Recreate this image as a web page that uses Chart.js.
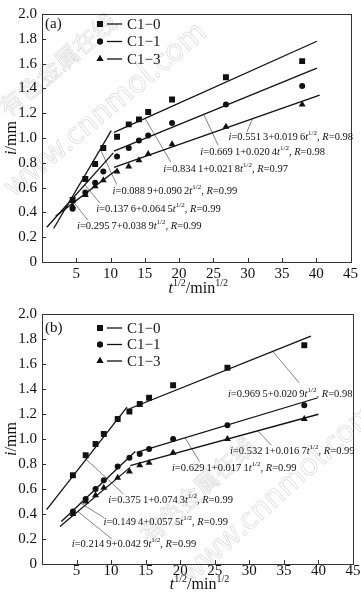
<!DOCTYPE html>
<html>
<head>
<meta charset="utf-8">
<script src="https://cdn.jsdelivr.net/npm/chart.js@4.4.0/dist/chart.umd.min.js"></script>
<style>
  html, body { margin: 0; padding: 0; background: #fff; }
  #wrap { position: relative; width: 361px; height: 601px; overflow: hidden; }
  .panel { position: absolute; left: 0; width: 361px; }
  #panelA { top: 0; height: 300px; }
  #panelB { top: 300px; height: 301px; }
</style>
</head>
<body>
<div id="wrap">
  <div class="panel" id="panelA"><canvas id="chartA"></canvas></div>
  <div class="panel" id="panelB"><canvas id="chartB"></canvas></div>
</div>
<script>
// t^1/2 (min^1/2) of the sampling times
const sqrtTime = [4.47, 6.32, 7.75, 8.94, 10.95, 12.65, 14.14, 15.49, 18.97, 26.83, 37.95];

// (a) measured i/mm
const aC10 = [0.50, 0.67, 0.79, 0.92, 1.01, 1.11, 1.15, 1.21, 1.31, 1.49, 1.62];
const aC11 = [0.43, 0.56, 0.64, 0.73, 0.85, 0.92, 0.98, 1.02, 1.12, 1.27, 1.42];
const aC13 = [0.45, 0.54, 0.61, 0.66, 0.73, 0.77, 0.82, 0.87, 0.95, 1.09, 1.27];

// (b) measured i/mm
const bC10 = [0.71, 0.87, 0.96, 1.04, 1.16, 1.22, 1.28, 1.33, 1.43, 1.57, 1.75];
const bC11 = [0.42, 0.52, 0.60, 0.67, 0.78, 0.85, 0.88, 0.92, 1.00, 1.11, 1.27];
const bC13 = [0.40, 0.50, 0.55, 0.61, 0.69, 0.74, 0.79, 0.81, 0.89, 1.00, 1.16];

// fitted segments (start / end), two stages per series
const aFitC10 = [[[1.7, 0.27], [10.1, 1.06]], [[10.5, 1.046], [40.1, 1.78]]];
const aFitC11 = [[[0.7, 0.28], [10.4, 0.88]], [[10.5, 0.894], [40.1, 1.563]]];
const aFitC13 = [[[2.0, 0.37], [10.8, 0.74]], [[10.5, 0.764], [40.5, 1.346]]];
const bFitC10 = [[[0.67, 0.435], [12.3, 1.255]], [[12.66, 1.242], [38.9, 1.823]]];
const bFitC11 = [[[2.8, 0.34], [13.5, 0.90]], [[13.7, 0.893], [39.8, 1.328]]];
const bFitC13 = [[[2.6, 0.30], [12.76, 0.773]], [[12.76, 0.787], [40.0, 1.198]]];

// fit equations: intercept, slope, R
const aFormulas = [
    ['0.551 3', '0.019 6', '0.98'],
    ['0.669 1', '0.020 4', '0.98'],
    ['0.834 1', '0.021 8', '0.97'],
    ['0.088 9', '0.090 2', '0.99'],
    ['0.137 6', '0.064 5', '0.99'],
    ['0.295 7', '0.038 9', '0.99']
];
const bFormulas = [
    ['0.969 5', '0.020 9', '0.98'],
    ['0.532 1', '0.016 7', '0.99'],
    ['0.629 1', '0.017 1', '0.99'],
    ['0.375 1', '0.074 3', '0.99'],
    ['0.149 4', '0.057 5', '0.99'],
    ['0.214 9', '0.042 9', '0.99']
];

const seriesNames = ['C1\u22120', 'C1\u22121', 'C1\u22123'];
const xTicks = [0, 5, 10, 15, 20, 25, 30, 35, 40, 45];
const yTicks = [0, 0.2, 0.4, 0.6, 0.8, 1.0, 1.2, 1.4, 1.6, 1.8, 2.0];

// label placement in data units: text left/middle, leader from (on line) -> to (at text)
const aNotePos = [
    { x: 27.2, y: 1.01,  from: [30.7, 1.155], to: [29.9, 1.05] },
    { x: 23.1, y: 0.888, from: [23.6, 1.19],  to: [25.7, 0.94] },
    { x: 17.7, y: 0.752, from: [15.0, 1.16],  to: [18.8, 0.805] },
    { x: 10.3, y: 0.568, from: [8.5, 0.91],   to: [10.9, 0.625] },
    { x: 7.9,  y: 0.427, from: [6.25, 0.624], to: [8.4, 0.477] },
    { x: 5.1,  y: 0.289, from: [4.66, 0.48],  to: [6.7, 0.336] }
];
const bNotePos = [
    { x: 26.9, y: 1.362, from: [33.4, 1.70],  to: [37.2, 1.45] },
    { x: 27.2, y: 0.904, from: [31.2, 1.066], to: [33.2, 0.95] },
    { x: 18.8, y: 0.768, from: [20.7, 1.009], to: [22.8, 0.82] },
    { x: 9.6,  y: 0.513, from: [6.35, 0.84],  to: [11.8, 0.56] },
    { x: 8.9,  y: 0.338, from: [5.5, 0.49],   to: [9.0, 0.37] },
    { x: 4.3,  y: 0.156, from: [5.2, 0.42],   to: [10.1, 0.2] }
];

const INK = '#111';
const SERIF = '"Liberation Serif", "Times New Roman", serif';

function pointSet(values, style, radius) {
    return {
        data: sqrtTime.map((x, i) => ({ x, y: values[i] })),
        pointStyle: style,
        pointRadius: radius,
        pointBackgroundColor: INK,
        pointBorderColor: INK,
        pointBorderWidth: 0,
        showLine: false
    };
}

function lineSets(segments) {
    return segments.map(seg => ({
        data: seg.map(([x, y]) => ({ x, y })),
        showLine: true,
        pointRadius: 0,
        borderColor: INK,
        borderWidth: 1.3
    }));
}

// draws a run of [text, kind] pieces; kind: n normal, i italic, s superscript
function drawRich(ctx, pieces, x, y, size) {
    let cx = x;
    pieces.forEach(([txt, kind]) => {
        if (kind === 's') {
            ctx.font = `${Math.round(size * 0.62)}px ${SERIF}`;
            ctx.fillText(txt, cx, y - size * 0.38);
        } else {
            ctx.font = `${kind === 'i' ? 'italic ' : ''}${size}px ${SERIF}`;
            ctx.fillText(txt, cx, y);
        }
        cx += ctx.measureText(txt).width;
    });
    return cx - x;
}

function richWidth(ctx, pieces, size) {
    let w = 0;
    pieces.forEach(([txt, kind]) => {
        ctx.font = kind === 's' ? `${Math.round(size * 0.62)}px ${SERIF}`
            : `${kind === 'i' ? 'italic ' : ''}${size}px ${SERIF}`;
        w += ctx.measureText(txt).width;
    });
    return w;
}

function formulaPieces(f) {
    const thin = s => s.replace(' ', '\u2009');
    return [['i', 'i'], ['=', 'n'], [thin(f[0]), 'n'], ['+', 'n'], [thin(f[1]), 'n'], ['t', 'i'], ['1/2', 's'],
        [', ', 'n'], ['R', 'i'], ['=', 'n'], [f[2], 'n']];
}

function decorPlugin(cfg) {
    return {
        id: 'decor' + cfg.tag,
        beforeDatasetsDraw(chart) {
            const { ctx, scales } = chart;
            ctx.save();
            // faint site watermark
            ctx.strokeStyle = 'rgba(0,0,0,0.16)';
            ctx.lineWidth = 0.7;
            cfg.watermark.forEach(w => {
                ctx.save();
                ctx.translate(w.x, w.y);
                ctx.rotate(w.angle * Math.PI / 180);
                ctx.font = `${w.size}px "Noto Sans CJK SC", "DejaVu Sans", sans-serif`;
                ctx.textBaseline = 'alphabetic';
                ctx.strokeText(w.text, 0, 0);
                ctx.restore();
            });
            // leader lines
            ctx.strokeStyle = '#666';
            ctx.lineWidth = 0.8;
            cfg.notes.forEach(n => {
                ctx.beginPath();
                ctx.moveTo(scales.x.getPixelForValue(n.from[0]), scales.y.getPixelForValue(n.from[1]));
                ctx.lineTo(scales.x.getPixelForValue(n.to[0]), scales.y.getPixelForValue(n.to[1]));
                ctx.stroke();
            });
            ctx.restore();
        },
        afterDraw(chart) {
            const { ctx, chartArea: ca, scales } = chart;
            ctx.save();
            // frame
            ctx.strokeStyle = '#333';
            ctx.lineWidth = 1;
            ctx.strokeRect(Math.round(ca.left) + 0.5, Math.round(ca.top) + 0.5,
                Math.round(ca.right - ca.left), Math.round(ca.bottom - ca.top));
            // inward ticks
            ctx.beginPath();
            xTicks.slice(1, -1).forEach(v => {
                const px = Math.round(scales.x.getPixelForValue(v)) + 0.5;
                ctx.moveTo(px, ca.bottom);
                ctx.lineTo(px, ca.bottom - 4);
            });
            yTicks.slice(1, -1).forEach(v => {
                const py = Math.round(scales.y.getPixelForValue(v)) + 0.5;
                ctx.moveTo(ca.left, py);
                ctx.lineTo(ca.left + 4, py);
            });
            ctx.stroke();

            ctx.fillStyle = INK;
            ctx.textBaseline = 'middle';
            // panel tag
            ctx.font = `15px ${SERIF}`;
            ctx.fillText(cfg.tag, ca.left + 3, ca.top + cfg.legendTop);

            // legend
            const styles = ['rect', 'circle', 'triangle'];
            const radii = [4.2, 3, 4];
            seriesNames.forEach((name, i) => {
                const y = ca.top + cfg.legendTop + i * cfg.legendGap;
                Chart.helpers.drawPoint(ctx, { pointStyle: styles[i], radius: radii[i], borderWidth: 0 }, ca.left + 58, y);
                ctx.fill();
                ctx.strokeStyle = INK;
                ctx.lineWidth = 1.3;
                ctx.beginPath();
                ctx.moveTo(ca.left + 65, y);
                ctx.lineTo(ca.left + 80, y);
                ctx.stroke();
                ctx.font = `15px ${SERIF}`;
                ctx.fillText(name, ca.left + 85, y + 1);
            });

            // equations
            ctx.textBaseline = 'middle';
            cfg.notes.forEach((n, i) => {
                drawRich(ctx, formulaPieces(cfg.formulas[i]),
                    scales.x.getPixelForValue(n.x), scales.y.getPixelForValue(n.y), 10.5);
            });

            // x title
            const xt = [['t', 'i'], ['1/2', 's'], ['/min', 'n'], ['1/2', 's']];
            const w = richWidth(ctx, xt, 16);
            drawRich(ctx, xt, (ca.left + ca.right) / 2 - w / 2 + 2, ca.bottom + cfg.xTitleGap, 16);

            // y title
            const yt = [['i', 'i'], ['/mm', 'n']];
            const wy = richWidth(ctx, yt, 16);
            ctx.translate(12, (ca.top + ca.bottom) / 2);
            ctx.rotate(-Math.PI / 2);
            drawRich(ctx, yt, -wy / 2, 0, 16);
            ctx.restore();
        }
    };
}

function makeChart(canvasId, series, fits, cfg) {
    const datasets = [
        pointSet(series[0], 'rect', 4.2),
        pointSet(series[1], 'circle', 3),
        pointSet(series[2], 'triangle', 4),
        ...fits.flatMap(lineSets)
    ];
    return new Chart(document.getElementById(canvasId), {
        type: 'scatter',
        data: { datasets },
        options: {
            responsive: true,
            maintainAspectRatio: false,
            animation: false,
            events: [],
            layout: { padding: { top: cfg.top, right: 8, left: 0, bottom: 0 } },
            plugins: { legend: { display: false }, tooltip: { enabled: false } },
            scales: {
                x: {
                    type: 'linear', min: 0, max: 45,
                    afterBuildTicks: s => { s.ticks = xTicks.map(value => ({ value })); },
                    afterFit: s => { s.height = cfg.xAxisHeight; },
                    grid: { display: false, drawTicks: false },
                    border: { display: false },
                    ticks: {
                        padding: cfg.xTickPad,
                        color: INK,
                        font: { family: SERIF, size: 15 },
                        callback: v => (v === 0 ? '' : String(v))
                    }
                },
                y: {
                    type: 'linear', min: 0, max: 2,
                    afterBuildTicks: s => { s.ticks = yTicks.map(value => ({ value })); },
                    afterFit: s => { s.width = 42; },
                    grid: { display: false, drawTicks: false },
                    border: { display: false },
                    ticks: {
                        padding: 5,
                        color: INK,
                        font: { family: SERIF, size: 15 },
                        callback: v => (v === 0 ? '0' : v.toFixed(1))
                    }
                }
            }
        },
        plugins: [decorPlugin(cfg)]
    });
}

makeChart('chartA', [aC10, aC11, aC13], [aFitC10, aFitC11, aFitC13], {
    tag: '(a)', top: 6, xAxisHeight: 38, xTickPad: 3, legendTop: 10, legendGap: 17.5, xTitleGap: 27,
    formulas: aFormulas, notes: aNotePos,
    watermark: [
        { text: '有色金属在线', x: 8, y: 118, angle: -40, size: 24 },
        { text: 'www.cnnmol.com', x: 14, y: 198, angle: -40, size: 30 }
    ]
});

makeChart('chartB', [bC10, bC11, bC13], [bFitC10, bFitC11, bFitC13], {
    tag: '(b)', top: 9, xAxisHeight: 37, xTickPad: -2, legendTop: 14, legendGap: 16.5, xTitleGap: 21,
    formulas: bFormulas, notes: bNotePos,
    watermark: [
        { text: '有色金属在线', x: 150, y: 245, angle: -42, size: 24 },
        { text: 'www.cnnmol.com', x: 190, y: 285, angle: -42, size: 30 }
    ]
});
</script>
</body>
</html>
